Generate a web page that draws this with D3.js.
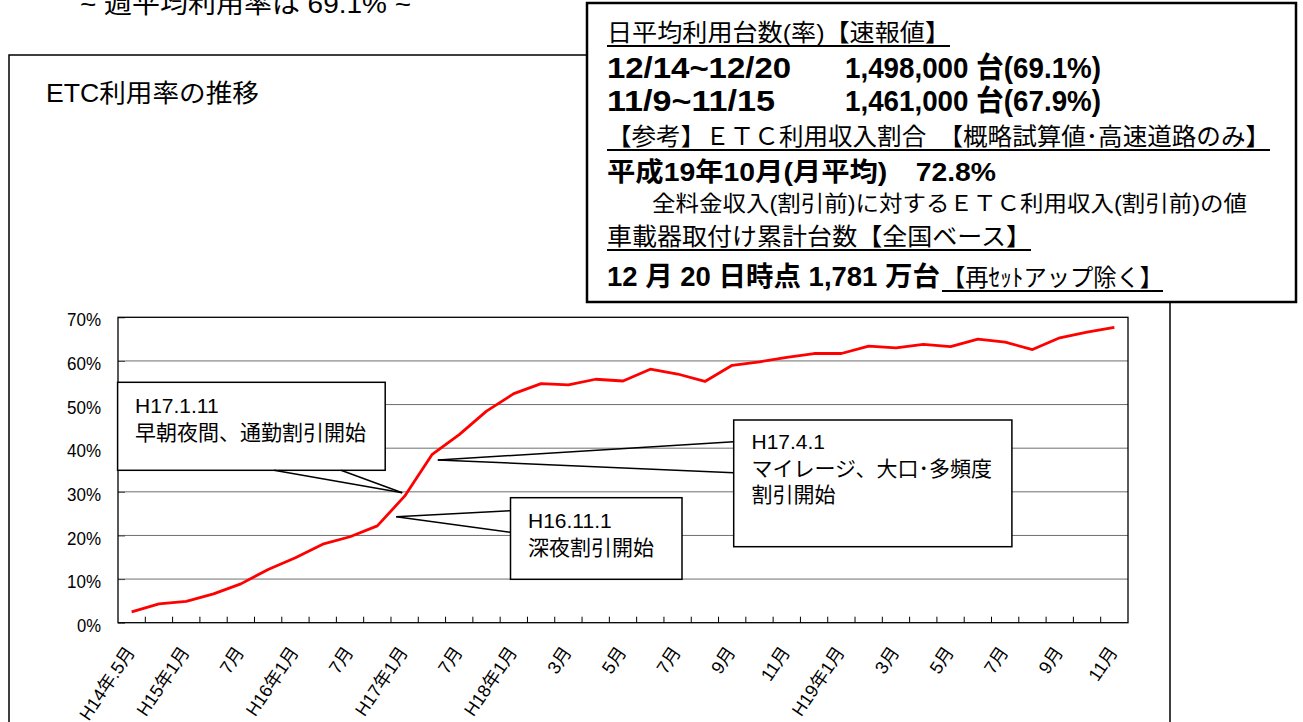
<!DOCTYPE html>
<html>
<head>
<meta charset="utf-8">
<script src="https://cdn.jsdelivr.net/npm/d3@7"></script>
<style>
  body { margin: 0; background: #fff; }
  svg text { font-family: "Liberation Sans", "Noto Sans CJK JP", sans-serif; fill: #000; }
</style>
</head>
<body>
<div id="chart"></div>
<script>
// months on the category axis (quarterly until H18, monthly after)
var categories = ["H14.5", "H14.9", "H15.1", "H15.4", "H15.7", "H15.10", "H16.1", "H16.4", "H16.7", "H16.10",
  "H17.1", "H17.4", "H17.7", "H17.10", "H18.1", "H18.2", "H18.3", "H18.4", "H18.5", "H18.6", "H18.7",
  "H18.8", "H18.9", "H18.10", "H18.11", "H18.12", "H19.1", "H19.2", "H19.3", "H19.4", "H19.5", "H19.6",
  "H19.7", "H19.8", "H19.9", "H19.10", "H19.11"];

var tickLabels = ["H14年.5月", "", "H15年1月", "", "7月", "", "H16年1月", "", "7月", "",
  "H17年1月", "", "7月", "", "H18年1月", "", "3月", "", "5月", "", "7月",
  "", "9月", "", "11月", "", "H19年1月", "", "3月", "", "5月", "",
  "7月", "", "9月", "", "11月"];

// ETC usage rate (%)
var usageRate = [2.5, 4.3, 4.9, 6.6, 8.9, 12.2, 14.9, 18.0, 19.7, 22.2,
  29.0, 38.5, 43.1, 48.5, 52.5, 54.8, 54.5, 55.8, 55.4, 58.1, 57.0,
  55.3, 59.0, 59.8, 60.8, 61.7, 61.7, 63.4, 63.0, 63.8, 63.3, 65.0,
  64.3, 62.6, 65.3, 66.6, 67.7];

var yTicks = [0, 10, 20, 30, 40, 50, 60, 70];

var callouts = [
  { lines: ["H17.1.11", "早朝夜間、通勤割引開始"], cat: "H17.1", value: 29.8, dx: -2.4,
    box: [117.6, 382.3, 267.6, 88], base: [[274, 470.3], [341, 470.3]], tx: 135, ty: [413, 440] },
  { lines: ["H16.11.1", "深夜割引開始"], cat: "H17.1", value: 24.3, dx: -8.4,
    box: [510.5, 497.7, 171.5, 81.6], base: [[510.5, 510.7], [510.5, 532.3]], tx: 528, ty: [528, 555] },
  { lines: ["H17.4.1", "マイレージ、大口･多頻度", "割引開始"], cat: "H17.4", value: 37.3, dx: 5.9,
    box: [733.7, 420, 278.2, 126.7], base: [[733.7, 441.7], [733.7, 472.7]], tx: 751.5, ty: [449, 476, 502] }
];

var infoLines = [
  { x: 607, y: 41, text: "日平均利用台数(率)【速報値】", size: 24, w: 343, u: true },
  { x: 607, y: 78, text: "12/14~12/20", size: 29, w: 184, bold: true },
  { x: 845, y: 78, text: "1,498,000 台(69.1%)", size: 29, w: 256, bold: true },
  { x: 607, y: 111, text: "11/9~11/15", size: 29, w: 168, bold: true },
  { x: 845, y: 111, text: "1,461,000 台(67.9%)", size: 29, w: 256, bold: true },
  { x: 607, y: 145, text: "【参考】ＥＴＣ利用収入割合　【概略試算値･高速道路のみ】", size: 24, w: 663, u: true },
  { x: 607, y: 181, text: "平成19年10月(月平均)　72.8%", size: 26, w: 389, bold: true },
  { x: 652, y: 211, text: "全料金収入(割引前)に対するＥＴＣ利用収入(割引前)の値", size: 22, w: 595 },
  { x: 607, y: 245, text: "車載器取付け累計台数【全国ベース】", size: 24, w: 424, u: true },
  { x: 607, y: 286, text: "12 月 20 日時点  1,781 万台", size: 27, w: 333, bold: true },
  { x: 942, y: 286, text: "【再ｾｯﾄアップ除く】", size: 24, w: 221, u: true }
];

function create() {
  var svg = d3.select("#chart")
    .append("svg")
    .attr("width", 1303)
    .attr("height", 722);

  // heading cut at the top of the page
  svg.append("text")
    .attr("x", 80).attr("y", 13)
    .attr("font-size", 26)
    .attr("textLength", 331).attr("lengthAdjust", "spacingAndGlyphs")
    .text("~ 週平均利用率は 69.1% ~");

  // outer frame of the chart
  svg.append("rect")
    .attr("x", 9).attr("y", 55)
    .attr("width", 1161).attr("height", 700)
    .style("fill", "#fff").style("stroke", "#000").style("stroke-width", 1.5);

  svg.append("text")
    .attr("x", 46).attr("y", 102)
    .attr("font-size", 25)
    .attr("textLength", 213).attr("lengthAdjust", "spacingAndGlyphs")
    .text("ETC利用率の推移");

  createLineChart(svg);
  createCallouts(svg);
  createInfoBox(svg);
}

var x, y;

function createLineChart(svg) {
  var left = 118, right = 1128, top = 317.3, bottom = 622.7;

  x = d3.scaleBand()
    .domain(categories)
    .range([left, right])
    .padding(0);
  y = d3.scaleLinear()
    .domain([0, 70])
    .range([bottom, top]);

  // grid lines
  svg.selectAll(".grid")
    .data(yTicks.slice(1, -1))
    .enter()
    .append("line")
    .attr("class", "grid")
    .attr("x1", left).attr("x2", right)
    .attr("y1", function (d) { return y(d); })
    .attr("y2", function (d) { return y(d); })
    .style("stroke", "#6e6e6e")
    .style("stroke-width", 1);

  // y axis labels, ticks pointing inside
  var yAxis = svg.append("g")
    .attr("transform", "translate(" + left + ",0)")
    .call(d3.axisLeft(y)
      .tickValues(yTicks)
      .tickSize(-7)
      .tickPadding(17)
      .tickFormat(function (d) { return d + "%"; }));
  yAxis.select(".domain").remove();
  yAxis.selectAll("line").style("stroke", "#444");
  yAxis.selectAll("text")
    .attr("font-size", 19)
    .attr("dy", "0.45em")
    .attr("textLength", function (d) { return d === 0 ? 24 : 34; })
    .attr("lengthAdjust", "spacingAndGlyphs")
    .style("font-family", "Liberation Sans, Noto Sans CJK JP, sans-serif");

  // category boundary ticks
  svg.selectAll(".xtick")
    .data(categories.slice(1))
    .enter()
    .append("line")
    .attr("class", "xtick")
    .attr("x1", function (d) { return x(d); })
    .attr("x2", function (d) { return x(d); })
    .attr("y1", bottom).attr("y2", bottom - 6)
    .style("stroke", "#000");

  // plot frame
  svg.append("rect")
    .attr("x", left).attr("y", top)
    .attr("width", right - left).attr("height", bottom - top)
    .style("fill", "none").style("stroke", "#000").style("stroke-width", 1.3);

  // rotated month labels
  svg.selectAll(".xlabel")
    .data(tickLabels)
    .enter()
    .append("text")
    .attr("class", "xlabel")
    .attr("font-size", 18)
    .attr("text-anchor", "end")
    .attr("transform", function (d, i) {
      var cx = x(categories[i]) + x.bandwidth() / 2 + 4;
      return "translate(" + cx + ",652) rotate(-56)";
    })
    .text(function (d) { return d; });

  var line = d3.line()
    .x(function (d, i) { return x(categories[i]) + x.bandwidth() / 2; })
    .y(function (d) { return y(d); });

  svg.append("path")
    .datum(usageRate)
    .attr("d", line)
    .style("fill", "none")
    .style("stroke", "#ff0000")
    .style("stroke-width", 2.8)
    .style("stroke-linejoin", "round");
}

function createCallouts(svg) {
  callouts.forEach(function (c) {
    var tipX = x(c.cat) + x.bandwidth() / 2 + c.dx;
    var tipY = y(c.value);
    var g = svg.append("g");

    g.append("rect")
      .attr("x", c.box[0]).attr("y", c.box[1])
      .attr("width", c.box[2]).attr("height", c.box[3])
      .style("fill", "#fff").style("stroke", "#000").style("stroke-width", 1.5);

    c.base.forEach(function (b) {
      g.append("line")
        .attr("x1", b[0]).attr("y1", b[1])
        .attr("x2", tipX).attr("y2", tipY)
        .style("stroke", "#000").style("stroke-width", 1.5);
    });

    c.lines.forEach(function (t, i) {
      g.append("text")
        .attr("x", c.tx).attr("y", c.ty[i])
        .attr("font-size", 21)
        .text(t);
    });
  });
}

function createInfoBox(svg) {
  svg.append("rect")
    .attr("x", 587).attr("y", 3)
    .attr("width", 709).attr("height", 299)
    .style("fill", "#fff").style("stroke", "#000").style("stroke-width", 2.5);

  infoLines.forEach(function (d) {
    svg.append("text")
      .attr("x", d.x).attr("y", d.y)
      .attr("font-size", d.size)
      .attr("font-weight", d.bold ? "bold" : "normal")
      .attr("textLength", d.w).attr("lengthAdjust", "spacingAndGlyphs")
      .text(d.text);
    if (d.u) {
      svg.append("line")
        .attr("x1", d.x).attr("x2", d.x + d.w)
        .attr("y1", d.y + 5).attr("y2", d.y + 5)
        .style("stroke", "#000").style("stroke-width", 1.8);
    }
  });
}

create();
</script>
</body>
</html>
